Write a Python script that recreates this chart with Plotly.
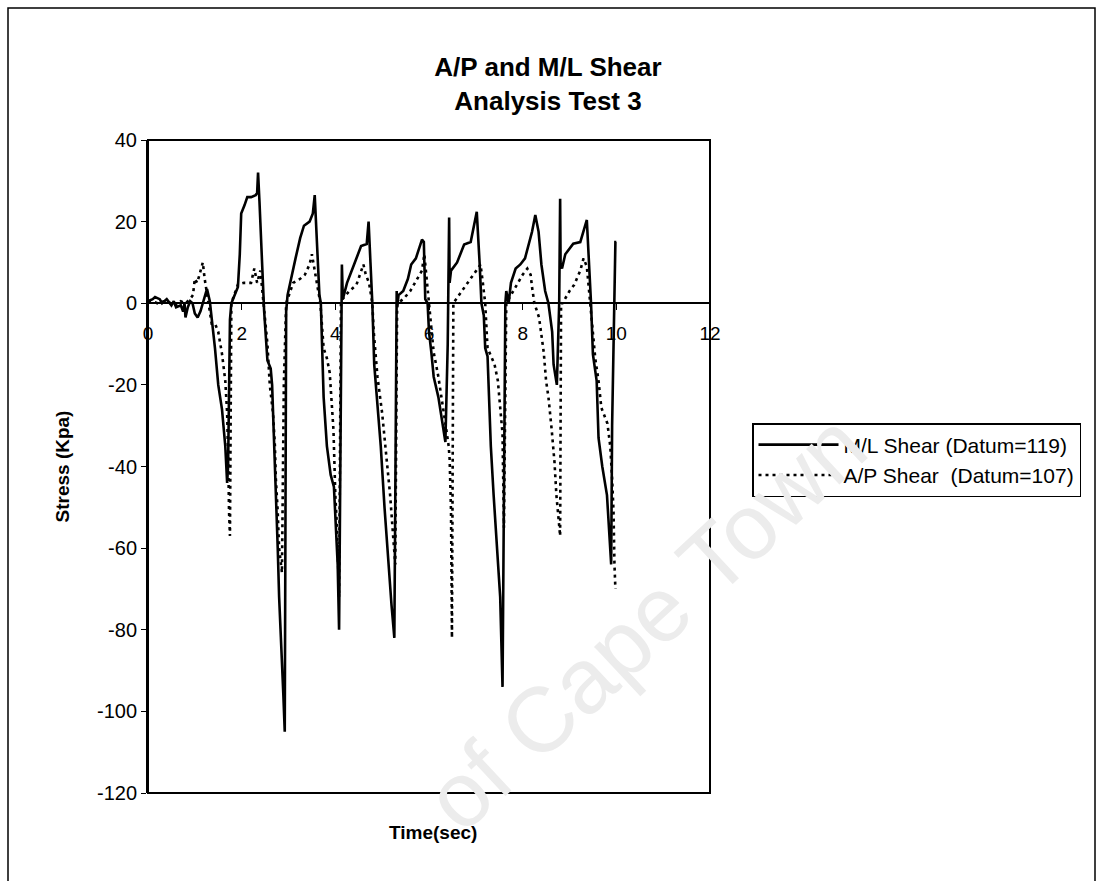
import plotly.graph_objects as go

# ---- M/L shear trace (time in s, stress in kPa) ----
ml_time = [
    0.00, 0.10, 0.15, 0.25, 0.30, 0.40, 0.50, 0.55, 0.60, 0.70, 0.75, 0.78, 0.80, 0.85,
    0.90, 0.95, 1.00, 1.06, 1.12, 1.18, 1.26, 1.32, 1.37, 1.43, 1.50, 1.58, 1.65, 1.69,
    1.71, 1.73, 1.75, 1.78, 1.85, 1.92, 1.96, 1.99, 2.06, 2.12, 2.20, 2.30, 2.33, 2.35,
    2.38, 2.41, 2.46, 2.48, 2.55, 2.62, 2.65, 2.70, 2.77, 2.80, 2.85, 2.89, 2.92, 2.94,
    2.95, 2.98, 3.05, 3.15, 3.25, 3.33, 3.45, 3.52, 3.56, 3.60, 3.66, 3.69, 3.72, 3.75,
    3.82, 3.90, 3.97, 4.02, 4.05, 4.08, 4.11, 4.12, 4.14, 4.16, 4.25, 4.40, 4.55, 4.67,
    4.71, 4.75, 4.79, 4.83, 4.90, 4.97, 5.05, 5.12, 5.20, 5.26, 5.29, 5.31, 5.32, 5.35,
    5.45, 5.55, 5.62, 5.72, 5.78, 5.85, 5.89, 5.92, 5.97, 6.00, 6.05, 6.10, 6.20, 6.30,
    6.35, 6.40, 6.42, 6.43, 6.44, 6.47, 6.60, 6.75, 6.89, 7.02, 7.08, 7.12, 7.17, 7.20,
    7.25, 7.28, 7.32, 7.38, 7.46, 7.52, 7.57, 7.61, 7.63, 7.65, 7.70, 7.75, 7.85, 7.95,
    8.05, 8.20, 8.27, 8.34, 8.40, 8.48, 8.55, 8.63, 8.66, 8.73, 8.78, 8.80, 8.81, 8.84,
    8.91, 9.08, 9.23, 9.37, 9.42, 9.46, 9.50, 9.58, 9.62, 9.70, 9.80, 9.85, 9.89, 9.91,
    9.95, 9.98, 10.00,
]
ml_stress = [
    0.5, 1.0, 1.5, 1.0, 0.0, 1.0, -0.5, 0.5, -1.0, -0.5, -2.0, 0.0, -3.5, -1.0,
    0.5, 0.0, -2.5, -3.5, -2.0, 0.5, 3.5, 0.5, -4.5, -11, -20, -26, -35, -44,
    -40, -20, -4, 0, 2, 4, 12, 22, 24, 26, 26, 26.5, 27, 32,
    25, 17, 2, -2, -14, -16, -20, -35, -60, -72, -84, -96, -105, -60,
    -2, 2, 6, 11, 16, 19, 20, 22, 26.5, 18, 2, 0, -11, -23,
    -35, -42, -45, -55, -64, -80, -20, 0, 9.5, 1, 5, 9.5, 14, 14.5,
    20, 10, 0, -15, -25, -35, -50, -62, -74, -82, -40, 3, -1, 2,
    3, 6, 9.5, 11, 13, 15.6, 15, 1, 0, -7, -12, -18, -23, -30,
    -34, -10, 5, 21, 5, 8, 10, 14.4, 15, 22.4, 10, 0, -3, -11,
    -13, -23, -35, -47, -60, -72, -94, -40, 0, 3, 0, 5, 8.5, 9.5,
    11, 17.5, 21.6, 17.5, 9.5, 3, 0, -7, -15, -20, 0, 25.6, 9.5, 8.5,
    12, 14.6, 15, 20.4, 9.5, 0, -12.5, -19, -33, -40, -47, -56, -64, -30,
    0, 15, 15,
]

# ---- A/P shear trace ----
ap_time = [
    0.00, 0.10, 0.20, 0.35, 0.50, 0.60, 0.70, 0.80, 0.90, 0.96, 1.00, 1.05, 1.10, 1.17,
    1.21, 1.25, 1.29, 1.36, 1.43, 1.50, 1.58, 1.65, 1.69, 1.71, 1.72, 1.73, 1.75, 1.78,
    1.92, 2.05, 2.20, 2.27, 2.33, 2.40, 2.47, 2.55, 2.60, 2.67, 2.71, 2.73, 2.77, 2.80,
    2.86, 2.90, 2.95, 3.10, 3.25, 3.35, 3.45, 3.50, 3.56, 3.62, 3.68, 3.75, 3.82, 3.88,
    3.92, 3.96, 3.98, 4.00, 4.04, 4.06, 4.08, 4.12, 4.15, 4.30, 4.45, 4.60, 4.65, 4.72,
    4.79, 4.82, 4.90, 5.00, 5.10, 5.17, 5.24, 5.28, 5.32, 5.45, 5.60, 5.75, 5.85, 5.90,
    5.95, 6.00, 6.05, 6.10, 6.20, 6.30, 6.37, 6.42, 6.44, 6.47, 6.49, 6.52, 6.70, 6.89,
    7.00, 7.10, 7.15, 7.20, 7.25, 7.40, 7.47, 7.53, 7.57, 7.60, 7.65, 7.75, 7.90, 8.00,
    8.10, 8.17, 8.20, 8.25, 8.35, 8.45, 8.50, 8.55, 8.62, 8.68, 8.72, 8.75, 8.80, 8.82,
    8.85, 9.00, 9.10, 9.23, 9.30, 9.37, 9.40, 9.45, 9.50, 9.55, 9.62, 9.68, 9.81, 9.87,
    9.91, 9.94, 9.96, 9.98,
]
ap_stress = [
    0.5, 0.5, 0.0, 0.5, 0.0, -0.5, 0.5, 0.0, 1.0, 2.0, 6.0, 5.0, 7.0, 10.0,
    6.0, 3.0, 0.0, -5, -5, -7, -12.4, -19, -27, -35, -43, -51, -57, 0,
    4.6, 5, 5, 8.5, 5, 8, 0, -10, -20, -27, -35, -43, -51, -60,
    -66, -20, 0, 5, 6, 7, 9.5, 12, 8, 4, 0, -11, -13.5, -17,
    -23, -31, -39, -47, -56, -64, -72, 0, 1, 3, 4.5, 9.5, 7, 5,
    0, -7, -18, -27, -38, -47, -58, -64, 0, 1, 3, 6, 8, 12,
    6, 0, -7, -12, -18, -25, -31, -35, -38, -51, -82, 0, 3, 6,
    8, 9.5, 5, 0, -11, -15, -19, -27, -32, -55, 0, 2, 5, 7,
    8.5, 7, 4, 0, -3.5, -12, -19, -23, -31, -39, -47, -51, -57, 0,
    0, 3, 4.5, 8, 11, 9, 5, 0, -8, -13.5, -19, -25.6, -29.5, -35,
    -43, -51, -64, -70,
]

series_names = ["M/L Shear (Datum=119)", "A/P Shear\u00a0 (Datum=107)"]
x_ticks = [0, 2, 4, 6, 8, 10, 12]
y_ticks = [40, 20, 0, -20, -40, -60, -80, -100, -120]
x_range = [0, 12]
y_range = [-120, 40]

# ---- page geometry (pixels) ----
W, H = 1101, 881
L, R, T, B = 148, W - 710, 140, H - 793
PW, PH = W - L - R, H - T - B


def paper_x(px):
    return (px - L) / PW


def paper_y(py):
    return (H - B - py) / PH


FONT = "Liberation Sans, Arial, Helvetica, sans-serif"

fig = go.Figure()
fig.add_trace(go.Scatter(
    x=ml_time, y=ml_stress, mode="lines", name=series_names[0],
    line=dict(color="black", width=2.6),
))
fig.add_trace(go.Scatter(
    x=ap_time, y=ap_stress, mode="lines", name=series_names[1],
    line=dict(color="black", width=2.6, dash="3px,4px"),
))

# the time axis crosses the stress axis at zero
x_axis_pos = (0 - y_range[0]) / (y_range[1] - y_range[0])

fig.update_layout(
    width=W, height=H,
    margin=dict(l=L, r=R, t=T, b=B),
    paper_bgcolor="white", plot_bgcolor="white",
    font=dict(family=FONT, color="black", size=20),
    title=dict(
        text="<b>A/P and M/L Shear</b><br><b>Analysis Test 3</b>",
        x=548 / W, xanchor="center", xref="container",
        y=1 - 76 / H, yanchor="top", yref="container",
        font=dict(size=26, family=FONT),
    ),
    xaxis=dict(
        range=x_range, tickvals=x_ticks, ticktext=[str(v) for v in x_ticks],
        showgrid=False, zeroline=False,
        showline=True, linecolor="black", linewidth=1.5,
        ticks="outside", ticklen=6, tickwidth=1.2, tickcolor="black",
        anchor="free", position=x_axis_pos,
        ticklabelstandoff=7,
        tickfont=dict(size=19),
    ),
    yaxis=dict(
        range=y_range, tickvals=y_ticks, ticktext=[str(v) for v in y_ticks],
        showgrid=False, zeroline=False,
        showline=True, linecolor="black", linewidth=2,
        ticks="outside", ticklen=5, tickwidth=1.2, tickcolor="black",
        tickfont=dict(size=20),
        title=dict(text="<b>Stress (Kpa)</b>", font=dict(size=19), standoff=22),
    ),
    legend=dict(
        x=paper_x(752), y=paper_y(423), xanchor="left", yanchor="top",
        bordercolor="black", borderwidth=1.5, bgcolor="rgba(255,255,255,0)",
        font=dict(size=21), itemwidth=80, tracegroupgap=4,
    ),
    showlegend=True,
)

# plot-area frame
fig.add_shape(type="rect", xref="paper", yref="paper", x0=0, x1=1, y0=0, y1=1,
              line=dict(color="black", width=2))
# chart-area border
fig.add_shape(type="rect", xref="paper", yref="paper",
              x0=paper_x(8), x1=paper_x(1095), y0=paper_y(900), y1=paper_y(8),
              line=dict(color="black", width=1.5))

# x-axis title sits below the plot frame
fig.add_annotation(text="<b>Time(sec)</b>", xref="paper", yref="paper",
                   x=paper_x(433), y=paper_y(832), showarrow=False,
                   font=dict(size=19, family=FONT), xanchor="center", yanchor="middle")

# faint diagonal watermark
fig.add_annotation(text="of Cape Town", xref="paper", yref="paper",
                   x=paper_x(645), y=paper_y(622), showarrow=False, textangle=-43,
                   font=dict(size=92, family=FONT, color="#ececec"),
                   xanchor="center", yanchor="middle")

fig.write_html("out.html")
